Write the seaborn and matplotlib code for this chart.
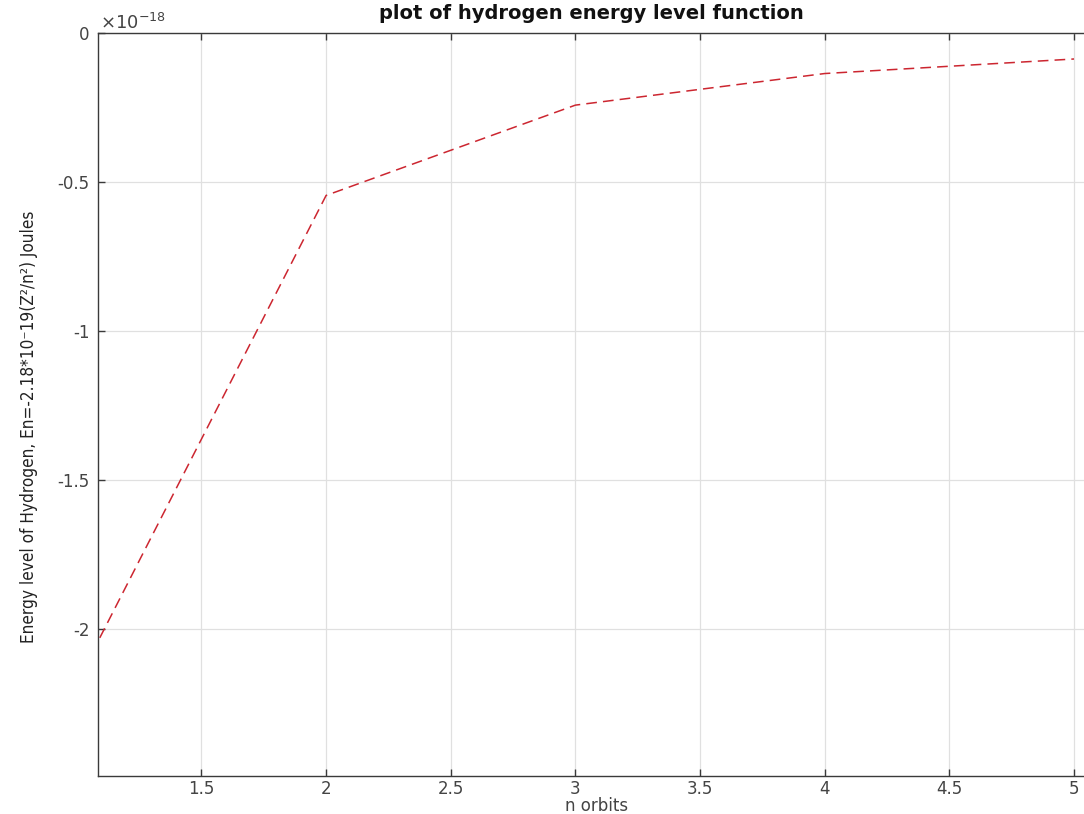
import matplotlib
matplotlib.use("Agg")
import matplotlib.pyplot as plt
import seaborn as sns
import pandas as pd
from matplotlib.ticker import FuncFormatter

# Data (energy in units of 1e-18 J)
n_orbits = [1, 2, 3, 4, 5]
energy_e18 = [-2.18, -0.545, -0.242, -0.136, -0.0872]
x_ticks = [1.5, 2, 2.5, 3, 3.5, 4, 4.5, 5]
y_ticks = [0, -0.5, -1, -1.5, -2]

title_text = "plot of hydrogen energy level function"
xlabel_text = "n orbits"
ylabel_text = "Energy level of Hydrogen, En=-2.18*10\u207b19(Z\u00b2/n\u00b2) Joules"

sns.set_theme(style="whitegrid")
plt.rcParams["font.family"] = ["DejaVu Sans"]
plt.rcParams["axes.unicode_minus"] = False

df = pd.DataFrame({"n": n_orbits, "E": energy_e18})

fig = plt.figure(figsize=(10.84, 8.14), dpi=100)
ax = fig.add_axes([98 / 1084, 1 - 776 / 814, 986 / 1084, 743 / 814])

sns.lineplot(data=df, x="n", y="E", ax=ax, color="#cc2630", linewidth=1.1)
ax.lines[0].set_dashes([7, 4])

ax.set_xlim(1.085, 5.04)
ax.set_ylim(-2.493, 0)
ax.set_xticks(x_ticks)
ax.set_yticks(y_ticks)
fmt = FuncFormatter(lambda v, p: "%g" % v)
ax.xaxis.set_major_formatter(fmt)
ax.yaxis.set_major_formatter(fmt)

ax.grid(True, color="#e0e0e0", linewidth=0.9)
ax.set_facecolor("white")
for side in ["left", "bottom", "top"]:
    ax.spines[side].set_visible(True)
    ax.spines[side].set_color("#3a3a3a")
    ax.spines[side].set_linewidth(1.0)
ax.spines["right"].set_visible(False)

ax.tick_params(axis="both", which="major", direction="in", length=5, width=1,
               colors="#3a3a3a", labelcolor="#444444", labelsize=12,
               top=True, bottom=True, left=True, right=False)
ax.tick_params(axis="x", pad=3)
ax.tick_params(axis="y", pad=6)

ax.set_xlabel(xlabel_text, fontsize=12, color="#444444")
ax.xaxis.set_label_coords(0.506, -0.0285)
ax.set_ylabel(ylabel_text, fontsize=12.3, color="#222222", fontstretch="condensed")
ax.yaxis.set_label_coords(-0.061, 0.47)

ax.set_title(title_text, fontsize=14, fontweight="bold", color="#111111", pad=10)
ax.text(0.002, 1.0, "\u00d710$^{-18}$", transform=ax.transAxes, fontsize=13,
        color="#444444", ha="left", va="bottom")

fig.savefig("out.png", dpi=100, facecolor="white")
